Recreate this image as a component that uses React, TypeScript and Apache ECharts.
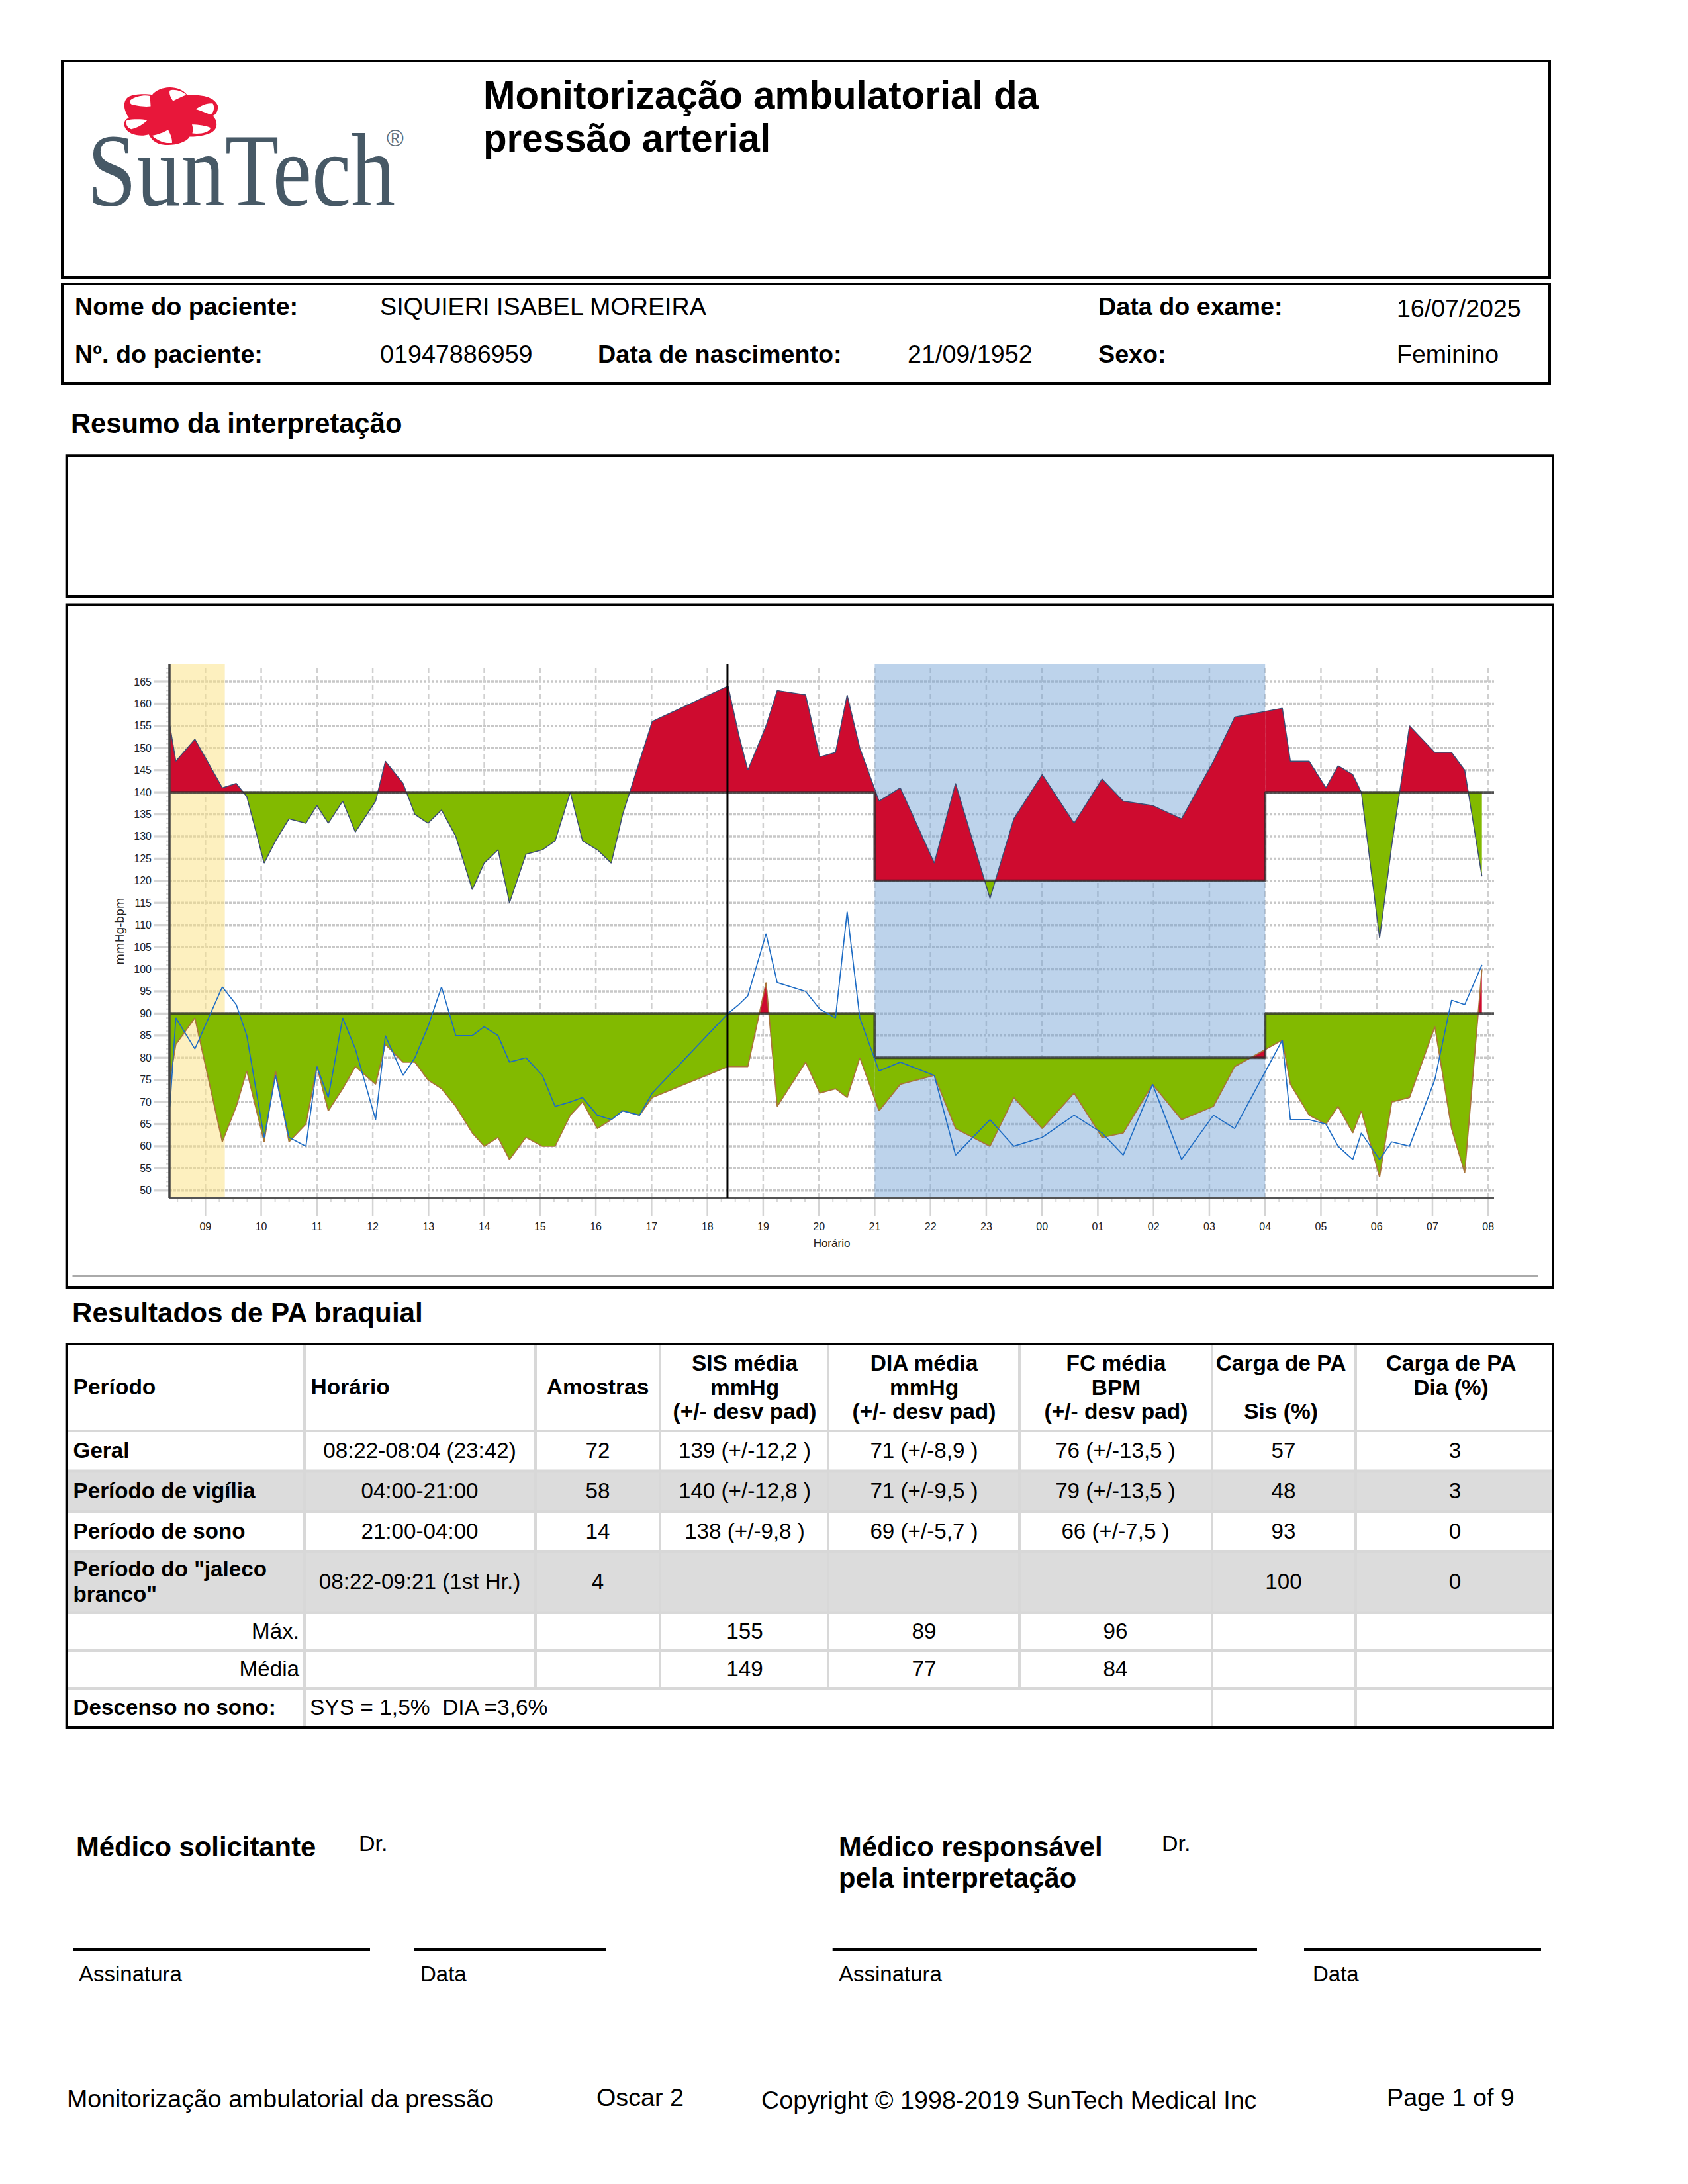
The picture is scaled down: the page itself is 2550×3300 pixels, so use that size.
import React, { useEffect, useRef } from "react";
import * as echarts from "echarts";

// ---------- chart data (decimal hours since midnight of the first day) ----------
const sampleHours = [
  8.364, 8.47, 8.811, 9.303, 9.553, 9.742, 10.053, 10.257, 10.499, 10.802, 10.999, 11.203, 11.461, 11.688, 12.052,
  12.226, 12.544, 12.756, 12.99, 13.233, 13.49, 13.785, 13.998, 14.247, 14.452, 14.747, 15.042, 15.27, 15.542, 15.762,
  16.027, 16.277, 16.481, 16.784, 17.011, 18.371, 18.562, 18.725, 19.052, 19.252, 19.761, 20.015, 20.297, 20.506,
  20.733, 21.078, 21.459, 22.068, 22.449, 23.067, 23.494, 24.003, 24.575, 25.075, 25.456, 25.983, 26.501, 27.073,
  27.454, 28.308, 28.453, 28.79, 29.09, 29.308, 29.571, 29.725, 30.052, 30.27, 30.588, 31.042, 31.342, 31.578, 31.887,
];
const systolic = [
  155, 147, 152, 141, 142, 139, 124, 129, 134, 133, 137, 133, 138, 131, 138, 147, 142, 135, 133, 136, 130, 118, 124,
  127, 115, 126, 127, 129, 140, 129, 127, 124, 135, 147, 156, 164, 153, 145, 155, 163, 162, 148, 149, 162, 150, 138,
  141, 124, 142, 116, 134, 144, 133, 143, 138, 137, 134, 147, 157, 159, 147, 147, 141, 146, 144, 140, 107, 128, 155,
  149, 149, 145, 121,
];
const diastolic = [
  75, 83, 89, 61, 69, 77, 61, 77, 61, 65, 78, 68, 73, 78, 74, 83, 79, 79, 75, 73, 69, 63, 60, 62, 57, 62, 60, 60, 67,
  70, 64, 66, 68, 67, 71, 78, 78, 78, 97, 69, 79, 72, 73, 71, 80, 68, 74, 76, 64, 60, 71, 64, 72, 62, 63, 74, 66, 69,
  78, 84, 74, 67, 65, 69, 63, 68, 53, 70, 71, 87, 64, 54, 100,
];
const heartRate = [
  69, 89, 82, 96, 92, 85, 62, 76, 62, 60, 78, 71, 89, 82, 66, 85, 76, 80, 87, 96, 85, 85, 87, 85, 79, 80, 76, 69, 70,
  71, 67, 66, 68, 67, 72, 90, 92, 94, 108, 97, 95, 91, 89, 113, 89, 77, 79, 76, 58, 66, 60, 62, 67, 63, 58, 74, 57, 67,
  64, 84, 66, 66, 65, 60, 57, 63, 57, 61, 60, 75, 93, 92, 101,
];
const axisStart = 8.3556;
const axisEnd = 32.104;
const yMin = 48.32;
const yMax = 168.89;
const sleepStart = 21;
const sleepEnd = 28;
const whiteCoatEnd = 9.348;
const cursorHour = 18.36;
const sysDay = 140;
const sysNight = 120;
const diaDay = 90;
const diaNight = 80;
const yTicks = [50, 55, 60, 65, 70, 75, 80, 85, 90, 95, 100, 105, 110, 115, 120, 125, 130, 135, 140, 145, 150, 155, 160, 165];
const hourTicks = [9, 10, 11, 12, 13, 14, 15, 16, 17, 18, 19, 20, 21, 22, 23, 24, 25, 26, 27, 28, 29, 30, 31, 32];
const hourLabels = ["09", "10", "11", "12", "13", "14", "15", "16", "17", "18", "19", "20", "21", "22", "23", "00", "01", "02", "03", "04", "05", "06", "07", "08"];
const limitHours = [axisStart, sleepStart, sleepStart, sleepEnd, sleepEnd, axisEnd];
const sysLimits = [sysDay, sysDay, sysNight, sysNight, sysDay, sysDay];
const diaLimits = [diaDay, diaDay, diaNight, diaNight, diaDay, diaDay];

// ---------- table data ----------
const tableHeader = [
  { x: 110.6, align: "left", lines: [["Período", 2107]] },
  { x: 469.6, align: "left", lines: [["Horário", 2107]] },
  { x: 903, align: "center", lines: [["Amostras", 2107]] },
  { x: 1125, align: "center", lines: [["SIS média", 2071], ["mmHg", 2108], ["(+/- desv pad)", 2144]] },
  { x: 1396, align: "center", lines: [["DIA média", 2071], ["mmHg", 2108], ["(+/- desv pad)", 2144]] },
  { x: 1686, align: "center", lines: [["FC média", 2071], ["BPM", 2108], ["(+/- desv pad)", 2144]] },
  { x: 1935, align: "center", lines: [["Carga de PA", 2071], ["Sis (%)", 2144]] },
  { x: 2192, align: "center", lines: [["Carga de PA", 2071], ["Dia (%)", 2108]] },
];
const colCenters = [634, 903, 1125, 1396, 1685, 1939, 2198];
const rowGeral = ["08:22-08:04 (23:42)", "72", "139 (+/-12,2 )", "71 (+/-8,9 )", "76 (+/-13,5 )", "57", "3"];
const rowVigilia = ["04:00-21:00", "58", "140 (+/-12,8 )", "71 (+/-9,5 )", "79 (+/-13,5 )", "48", "3"];
const rowSono = ["21:00-04:00", "14", "138 (+/-9,8 )", "69 (+/-5,7 )", "66 (+/-7,5 )", "93", "0"];
const rowJaleco = ["08:22-09:21 (1st Hr.)", "4", "", "", "", "100", "0"];
const rowMax = ["", "", "155", "89", "96", "", ""];
const rowMedia = ["", "", "149", "77", "84", "", ""];
const colLines = [460, 809, 997, 1251, 1540, 1831, 2048];
const rowLines = [2162, 2222.6, 2284, 2344, 2436.5, 2494, 2551];

// ---------- logo paths (in a 1500x660 logo box) ----------
const flowerBody =
  "M300,100 C330,60 420,50 458,100 C500,100 580,100 598,150 C600,170 590,190 575,195 C600,220 600,260 560,275 C520,290 490,290 470,290 C450,325 370,335 330,322 C300,310 290,290 285,280 C250,290 190,285 175,245 C170,220 180,210 195,205 C170,170 165,130 190,110 C220,95 270,95 300,100 Z";
const flowerWindows =
  "M380,80 C400,72 440,85 455,100 C430,110 410,120 395,128 C385,115 375,95 380,80 Z " +
  "M498,165 C520,150 550,135 575,140 C585,155 580,180 565,190 C540,180 520,172 498,165 Z " +
  "M480,235 C510,235 545,240 565,250 C560,270 520,280 482,275 C485,260 485,245 480,235 Z " +
  "M300,285 C325,280 355,270 372,258 C382,275 392,300 390,318 C355,322 320,305 300,285 Z " +
  "M185,215 C215,210 250,210 278,215 C262,232 235,250 205,256 C185,250 178,230 185,215 Z " +
  "M200,125 C225,105 265,100 290,105 L293,152 C262,155 225,150 205,143 C198,138 197,130 200,125 Z";
echarts.graphic.registerShape("flowerBody", echarts.graphic.extendPath(flowerBody, {}));
echarts.graphic.registerShape("flowerWindows", echarts.graphic.extendPath(flowerWindows, {}));

// ---------- fill regions between a trace and its step limit ----------
type Run = { sign: number; limit: number; pts: number[][] };
function buildRuns(hours: number[], values: number[], day: number, night: number): Run[] {
  const limitAt = (h: number) => (h >= sleepStart && h < sleepEnd ? night : day);
  const runs: Run[] = [];
  const push = (a: number[], b: number[]) => {
    const limit = limitAt((a[0] + b[0]) / 2);
    const sign = (a[1] + b[1]) / 2 >= limit ? 1 : -1;
    const last = runs[runs.length - 1];
    if (last && last.sign === sign && last.limit === limit) last.pts.push(b);
    else runs.push({ sign, limit, pts: [a, b] });
  };
  for (let i = 0; i < hours.length - 1; i++) {
    const p0 = [hours[i], values[i]];
    const p1 = [hours[i + 1], values[i + 1]];
    const cuts = [p0];
    for (const b of [sleepStart, sleepEnd]) {
      if (p0[0] < b && b < p1[0]) cuts.push([b, p0[1] + ((b - p0[0]) / (p1[0] - p0[0])) * (p1[1] - p0[1])]);
    }
    cuts.push(p1);
    for (let j = 0; j < cuts.length - 1; j++) {
      const a = cuts[j];
      const b = cuts[j + 1];
      const lim = limitAt((a[0] + b[0]) / 2);
      if ((a[1] - lim) * (b[1] - lim) < 0) {
        const t = (lim - a[1]) / (b[1] - a[1]);
        const m = [a[0] + t * (b[0] - a[0]), lim];
        push(a, m);
        push(m, b);
      } else {
        push(a, b);
      }
    }
  }
  return runs;
}

function fillSeries(runs: Run[], z: number) {
  return {
    type: "custom",
    coordinateSystem: "cartesian2d",
    silent: true,
    z,
    clip: false,
    encode: { x: 0, y: 1 },
    data: runs.map((r) => r.pts[0]),
    renderItem: (params: any, api: any) => {
      const r = runs[params.dataIndex];
      const top = r.pts.map((p) => api.coord(p));
      const base = [api.coord([r.pts[r.pts.length - 1][0], r.limit]), api.coord([r.pts[0][0], r.limit])];
      return {
        type: "polygon",
        shape: { points: top.concat(base) },
        style: { fill: r.sign > 0 ? "#CE0B2F" : "#82BA00", stroke: null },
      };
    },
  };
}

// ---------- page elements ----------
const FONT = "Liberation Sans";
function T(text: string, x: number, baseline: number, size: number, bold = false, align = "left") {
  return {
    type: "text",
    x,
    y: baseline - 0.3465 * size,
    silent: true,
    style: {
      text,
      fill: "#000",
      fontFamily: FONT,
      fontSize: size,
      fontWeight: bold ? "bold" : "normal",
      align,
      verticalAlign: "middle",
    },
  };
}
function box(x1: number, y1: number, x2: number, y2: number, w = 4) {
  return {
    type: "rect",
    silent: true,
    shape: { x: x1, y: y1, width: x2 - x1, height: y2 - y1 },
    style: { fill: "none", stroke: "#000", lineWidth: w },
  };
}
function hline(x1: number, x2: number, y: number, w = 4, c = "#000") {
  return { type: "line", silent: true, shape: { x1, y1: y, x2, y2: y }, style: { stroke: c, lineWidth: w } };
}
function vline(x: number, y1: number, y2: number, w = 4, c = "#d8d8d8") {
  return { type: "line", silent: true, shape: { x1: x, y1, x2: x, y2 }, style: { stroke: c, lineWidth: w } };
}
function fillRect(x1: number, y1: number, x2: number, y2: number, c: string) {
  return { type: "rect", silent: true, shape: { x: x1, y: y1, width: x2 - x1, height: y2 - y1 }, style: { fill: c } };
}

function pageElements() {
  const L = 100.7;
  const R = 2346;
  const els: any[] = [];
  // header
  els.push(box(94, 92, 2341, 419));
  els.push(box(94, 429, 2341, 579));
  els.push({ type: "flowerBody", x: 130, y: 110, scaleX: 1 / 3, scaleY: 1 / 3, silent: true, style: { fill: "#E8173A" } });
  els.push({ type: "flowerWindows", x: 130, y: 110, scaleX: 1 / 3, scaleY: 1 / 3, silent: true, style: { fill: "#fff" } });
  els.push({
    type: "text", x: 132, y: 257.6, scaleX: 0.85, silent: true,
    style: { text: "SunTech", fill: "#475966", fontFamily: "Liberation Serif", fontSize: 157, align: "left", verticalAlign: "middle" },
  });
  els.push({
    type: "text", x: 584, y: 208, silent: true,
    style: { text: "®", fill: "#5b6d7a", fontFamily: FONT, fontSize: 35, align: "left", verticalAlign: "middle" },
  });
  els.push(T("Monitorização ambulatorial da", 730, 164, 58.3, true));
  els.push(T("pressão arterial", 730, 229, 58.3, true));
  els.push(T("Nome do paciente:", 113, 476, 37.7, true));
  els.push(T("SIQUIERI ISABEL MOREIRA", 574, 476, 37.7));
  els.push(T("Data do exame:", 1659, 476, 37.7, true));
  els.push(T("16/07/2025", 2110, 479, 37.5));
  els.push(T("Nº. do paciente:", 113, 548, 37.7, true));
  els.push(T("01947886959", 574, 548, 37.7));
  els.push(T("Data de nascimento:", 903, 548, 37.7, true));
  els.push(T("21/09/1952", 1371, 548, 37.7));
  els.push(T("Sexo:", 1659, 548, 37.7, true));
  els.push(T("Feminino", 2110, 548, 37.5));
  // interpretation
  els.push(T("Resumo da interpretação", 107, 654, 41.7, true));
  els.push(box(L, 688.3, R, 901));
  // chart frame
  els.push(box(L, 913.6, R, 1945));
  els.push(hline(109.5, 2324, 1928, 2, "#aaa"));
  // table
  els.push(T("Resultados de PA braquial", 109, 1998, 42.2, true));
  els.push(fillRect(L, 2222.6, R, 2284, "#dcdcdc"));
  els.push(fillRect(L, 2344, R, 2436.5, "#dcdcdc"));
  const T_TOP = 2031;
  const T_BOT = 2610;
  for (const y of rowLines) els.push(hline(L, R, y, 4, "#d8d8d8"));
  colLines.forEach((x, i) => {
    if (i >= 1 && i <= 4) {
      els.push(vline(x, T_TOP, 2551));
    } else {
      els.push(vline(x, T_TOP, T_BOT));
    }
  });
  els.push(box(L, T_TOP, R, T_BOT));
  for (const h of tableHeader) {
    for (const [txt, y] of h.lines as [string, number][]) els.push(T(txt, h.x, y, 33.5, true, h.align));
  }
  const rows: [string[], number][] = [
    [rowGeral, 2203],
    [rowVigilia, 2264],
    [rowSono, 2325],
    [rowJaleco, 2401],
    [rowMax, 2476],
    [rowMedia, 2533],
  ];
  for (const [row, y] of rows) row.forEach((s, i) => { if (s) els.push(T(s, colCenters[i], y, 33.2, false, "center")); });
  els.push(T("Geral", 110.6, 2203, 33.2, true));
  els.push(T("Período de vigília", 110.6, 2264, 33.2, true));
  els.push(T("Período de sono", 110.6, 2325, 33.2, true));
  els.push(T('Período do "jaleco', 110.6, 2382, 33.2, true));
  els.push(T('branco"', 110.6, 2420, 33.2, true));
  els.push(T("Máx.", 452, 2476, 33.2, false, "right"));
  els.push(T("Média", 452, 2533, 33.2, false, "right"));
  els.push(T("Descenso no sono:", 110.6, 2591, 33.2, true));
  els.push(T("SYS = 1,5%  DIA =3,6%", 468, 2591, 33.5));
  // signatures
  els.push(T("Médico solicitante", 115, 2805, 41.8, true));
  els.push(T("Dr.", 542, 2797, 34));
  els.push(T("Médico responsável", 1267, 2805, 41.7, true));
  els.push(T("pela interpretação", 1267, 2852, 41.7, true));
  els.push(T("Dr.", 1755, 2797, 34));
  els.push(hline(110.5, 559, 2946));
  els.push(hline(625.4, 915, 2946));
  els.push(hline(1257.7, 1899, 2946));
  els.push(hline(1970, 2328, 2946));
  els.push(T("Assinatura", 119, 2994, 33));
  els.push(T("Data", 635, 2994, 33));
  els.push(T("Assinatura", 1267, 2994, 33));
  els.push(T("Data", 1983, 2994, 33));
  // footer
  els.push(T("Monitorização ambulatorial da pressão", 101, 3184, 37.55));
  els.push(T("Oscar 2", 901, 3182, 37.7));
  els.push(T("Copyright © 1998-2019 SunTech Medical Inc", 1150, 3186, 37.7));
  els.push(T("Page 1 of 9", 2095, 3182, 37.7));
  return els;
}

export default function App() {
  const ref = useRef<HTMLDivElement>(null);
  useEffect(() => {
    const chart = echarts.init(ref.current!, undefined, { renderer: "svg" });
    const zip = (ys: number[]) => sampleHours.map((h, i) => [h, ys[i]]);
    const sysRuns = buildRuns(sampleHours, systolic, sysDay, sysNight);
    const diaRuns = buildRuns(sampleHours, diastolic, diaDay, diaNight);
    const axisFont = "Liberation Sans";
    const option: any = {
      animation: false,
      backgroundColor: "#fff",
      grid: { left: 256, top: 1004, width: 2001, height: 806 },
      xAxis: {
        type: "value",
        min: axisStart,
        max: axisEnd,
        name: "Horário",
        nameLocation: "middle",
        nameGap: 60,
        nameTextStyle: { fontFamily: axisFont, fontSize: 17, color: "#222" },
        splitLine: { show: false },
        axisTick: { show: false },
        axisLine: { show: false },
        axisLabel: {
          show: true,
          customValues: hourTicks,
          margin: 35,
          fontFamily: axisFont,
          fontSize: 16,
          color: "#222",
          formatter: (v: number) => hourLabels[hourTicks.indexOf(v)] ?? "",
        },
      },
      yAxis: {
        type: "value",
        min: yMin,
        max: yMax,
        name: "mmHg-bpm",
        nameLocation: "middle",
        nameGap: 67,
        nameTextStyle: { fontFamily: "DejaVu Sans", fontSize: 17, color: "#222" },
        splitLine: { show: false },
        axisTick: { show: false },
        axisLine: { show: false },
        axisLabel: {
          show: true,
          customValues: yTicks,
          margin: 27,
          fontFamily: axisFont,
          fontSize: 16,
          color: "#222",
        },
      },
      graphic: { elements: pageElements() },
      series: [
        // horizontal grid
        {
          type: "custom",
          coordinateSystem: "cartesian2d",
          silent: true,
          z: 1,
          clip: false,
          encode: { x: 0, y: 1 },
          data: yTicks.map((y) => [axisStart, y]),
          renderItem: (_: any, api: any) => {
            const v = api.value(1);
            const a = api.coord([axisStart, v]);
            const b = api.coord([axisEnd, v]);
            const children: any[] = [
              { type: "line", shape: { x1: a[0], y1: a[1], x2: b[0], y2: b[1] }, style: { stroke: "#c8c8c8", lineWidth: 3.5, lineDash: [4, 2] } },
              { type: "line", shape: { x1: a[0] - 24, y1: a[1], x2: a[0], y2: a[1] }, style: { stroke: "#d4d4d4", lineWidth: 3.3 } },
            ];
            for (const k of [1, 2, 3, 4]) {
              if (v + k > yMax) continue;
              const m = api.coord([axisStart, v + k]);
              children.push({ type: "line", shape: { x1: m[0] - 5, y1: m[1], x2: m[0], y2: m[1] }, style: { stroke: "#d8d8d8", lineWidth: 2 } });
            }
            return { type: "group", children };
          },
        },
        // vertical grid
        {
          type: "custom",
          coordinateSystem: "cartesian2d",
          silent: true,
          z: 1,
          clip: false,
          encode: { x: 0, y: 1 },
          data: hourTicks.map((h) => [h, yMin]),
          renderItem: (_: any, api: any) => {
            const h = api.value(0);
            const a = api.coord([h, yMin]);
            const b = api.coord([h, yMax]);
            const children: any[] = [
              { type: "line", shape: { x1: a[0], y1: a[1], x2: b[0], y2: b[1] }, style: { stroke: "#d0d0d0", lineWidth: 2.5, lineDash: [8, 5] } },
              { type: "line", shape: { x1: a[0], y1: a[1], x2: a[0], y2: a[1] + 28 }, style: { stroke: "#d4d4d4", lineWidth: 2.5 } },
            ];
            for (const q of [-0.75, -0.5, -0.25]) {
              if (h + q < axisStart) continue;
              const m = api.coord([h + q, yMin]);
              children.push({ type: "line", shape: { x1: m[0], y1: m[1], x2: m[0], y2: m[1] + 6 }, style: { stroke: "#d8d8d8", lineWidth: 2 } });
            }
            return { type: "group", children };
          },
        },
        // bands
        {
          type: "custom",
          coordinateSystem: "cartesian2d",
          silent: true,
          z: 2,
          clip: false,
          encode: { x: 0, y: 1 },
          data: [
            [axisStart, yMax, whiteCoatEnd, 0],
            [sleepStart, yMax, sleepEnd, 1],
          ],
          renderItem: (_: any, api: any) => {
            const a = api.coord([api.value(0), yMax]);
            const b = api.coord([api.value(2), yMin]);
            return {
              type: "rect",
              shape: { x: a[0], y: a[1], width: b[0] - a[0], height: b[1] - a[1] },
              style: { fill: api.value(3) ? "rgba(108,157,211,0.45)" : "rgba(251,225,127,0.5)" },
            };
          },
        },
        { ...fillSeries(sysRuns, 3) },
        { ...fillSeries(diaRuns, 3) },
        { type: "line", silent: true, z: 4, symbol: "none", data: zip(systolic), lineStyle: { color: "#3C4C72", width: 1.5 } },
        { type: "line", silent: true, z: 4, symbol: "none", data: zip(diastolic), lineStyle: { color: "#A8743A", width: 1.8 } },
        { type: "line", silent: true, z: 5, symbol: "none", data: limitHours.map((h, i) => [h, sysLimits[i]]), lineStyle: { color: "rgba(40,40,40,0.75)", width: 4 } },
        { type: "line", silent: true, z: 5, symbol: "none", data: limitHours.map((h, i) => [h, diaLimits[i]]), lineStyle: { color: "rgba(40,40,40,0.75)", width: 4 } },
        { type: "line", silent: true, z: 6, symbol: "none", data: zip(heartRate), lineStyle: { color: "#1E6CC4", width: 1.7 } },
        // axis lines and cursor
        { type: "line", silent: true, z: 7, symbol: "none", data: [[axisStart, yMin], [axisEnd, yMin]], lineStyle: { color: "#555", width: 4 } },
        { type: "line", silent: true, z: 7, symbol: "none", data: [[axisStart, yMin], [axisStart, yMax]], lineStyle: { color: "#444", width: 3.5 } },
        { type: "line", silent: true, z: 8, symbol: "none", data: [[cursorHour, yMin], [cursorHour, yMax]], lineStyle: { color: "#000", width: 3 } },
      ],
    };
    chart.setOption(option);
    return () => chart.dispose();
  }, []);
  return <div ref={ref} style={{ position: "absolute", left: 0, top: 0, width: 2550, height: 3300 }} />;
}
